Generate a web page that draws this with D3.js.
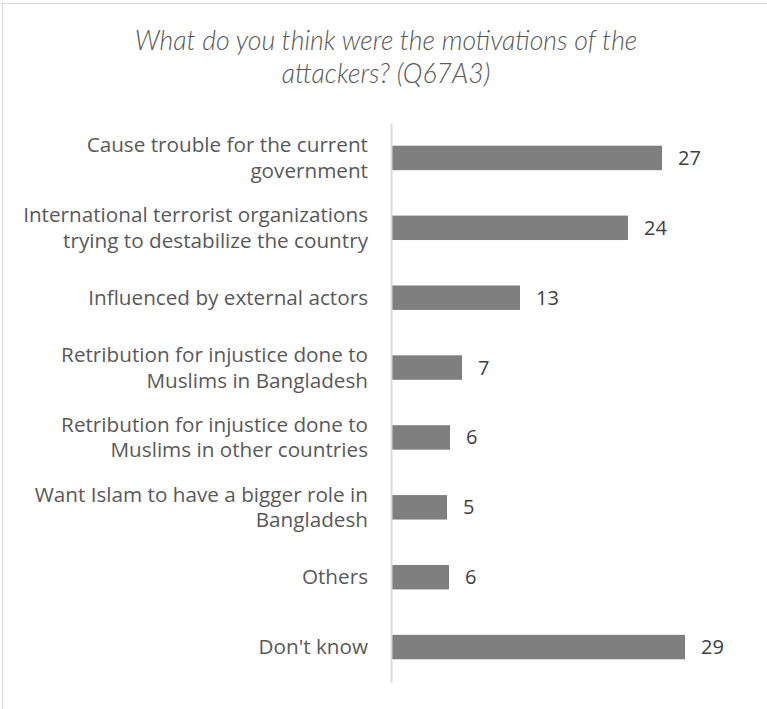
<!DOCTYPE html>
<html>
<head>
<meta charset="utf-8">
<script src="https://cdn.jsdelivr.net/npm/d3@7"></script>
<style>
  html, body { margin: 0; padding: 0; background: #fff; }
  svg { display: block; }
</style>
</head>
<body>
<div id="chart"></div>
<script>
const titleLines = ["What do you think were the motivations of the", "attackers? (Q67A3)"];
const categories = [
  ["Cause trouble for the current", "government"],
  ["International terrorist organizations", "trying to destabilize the country"],
  ["Influenced by external actors"],
  ["Retribution for injustice done to", "Muslims in Bangladesh"],
  ["Retribution for injustice done to", "Muslims in other countries"],
  ["Want Islam to have a bigger role in", "Bangladesh"],
  ["Others"],
  ["Don't know"]
];
const values = [27.0, 23.6, 12.8, 7.0, 5.8, 5.5, 5.7, 29.3];
const labels = ["27", "24", "13", "7", "6", "5", "6", "29"];

const W = 767, H = 709;
const svg = d3.select("#chart").append("svg").attr("width", W).attr("height", H);

// chart border (only top/left visible in frame)
svg.append("rect").attr("x", 2.5).attr("y", 3.5).attr("width", W + 10).attr("height", H + 10)
  .attr("fill", "#fff").attr("stroke", "#d9d9d9").attr("stroke-width", 1);

const idx = categories.map((d, i) => i);
const y = d3.scaleBand().domain(idx).range([123, 682]).paddingInner(0.65).paddingOuter(0.325);
const x = d3.scaleLinear().domain([0, 35]).range([392, 742]);

// title
svg.append("g").selectAll("text").data(titleLines).join("text")
  .attr("x", 386).attr("y", (d, i) => 50 + i * 33)
  .attr("text-anchor", "middle")
  .attr("font-family", "Lato, sans-serif").attr("font-style", "italic").attr("font-weight", 300)
  .attr("font-size", 26.6).attr("fill", "#595959")
  .text(d => d);

// bars
svg.append("g").selectAll("rect").data(values).join("rect")
  .attr("x", x(0)).attr("y", (d, i) => y(i))
  .attr("width", d => x(d) - x(0)).attr("height", y.bandwidth())
  .attr("fill", "#7f7f7f");

// axis line
svg.append("g").attr("transform", `translate(${x(0) - 1},0)`)
  .call(d3.axisLeft(y).tickSize(0).tickFormat(""))
  .call(g => g.select(".domain").attr("stroke", "#d9d9d9").attr("stroke-width", 2));

// category labels
const catG = svg.append("g");
categories.forEach((lines, i) => {
  const cy = y(i) + y.bandwidth() / 2;
  const lh = 25.5;
  const t = catG.append("text")
    .attr("text-anchor", "end")
    .attr("font-family", "'Open Sans', sans-serif").attr("font-size", 20.7).attr("fill", "#595959");
  lines.forEach((ln, j) => {
    t.append("tspan").attr("x", 368)
      .attr("y", cy + (j - (lines.length - 1) / 2) * lh)
      .attr("dy", "0.35em").text(ln);
  });
});

// value labels
svg.append("g").selectAll("text").data(values).join("text")
  .attr("x", d => x(d) + 16).attr("y", (d, i) => y(i) + y.bandwidth() / 2)
  .attr("dy", "0.35em")
  .attr("font-family", "'Open Sans', sans-serif").attr("font-size", 20).attr("fill", "#404040")
  .text((d, i) => labels[i]);
</script>
</body>
</html>
